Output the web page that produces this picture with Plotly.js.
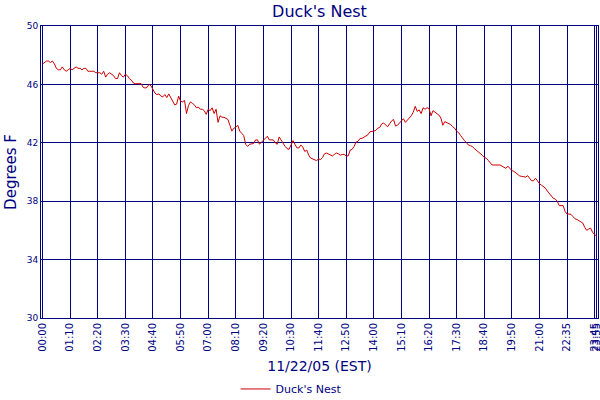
<!DOCTYPE html>
<html>
<head>
<meta charset="utf-8">
<script src="https://cdn.plot.ly/plotly-3.0.1.min.js"></script>
<style>html,body{margin:0;padding:0;background:#fff;}#chart{width:600px;height:400px;}</style>
</head>
<body>
<div id="chart"></div>
<script>
// Temperature readings (degrees F), one per sample
const temps = [
  47.4, 47.5, 47.6, 47.6, 47.5, 47.6, 47.4, 47.1, 47.0, 47.0, 47.2, 47.0, 46.9, 47.0,
  47.1, 47.0, 47.1, 47.2, 47.1, 47.1, 47.0, 47.1, 47.1, 46.9, 46.9, 46.9, 46.9, 46.8,
  46.8, 46.8, 46.7, 46.9, 46.5, 46.7, 46.8, 46.7, 46.6, 46.4, 46.4, 46.8, 46.6, 46.5,
  46.7, 46.6, 46.4, 46.3, 46.1, 46.05, 46.05, 46.05, 46.05, 45.8, 45.75, 45.8, 46.0, 45.9,
  45.6, 45.4, 45.3, 45.35, 45.2, 45.15, 45.3, 45.1, 45.35, 45.1, 44.8, 44.6, 44.65, 45.2,
  44.85, 44.8, 44.9, 44.0, 44.55, 44.8, 44.7, 44.6, 44.4, 44.45, 44.3, 44.3, 44.2, 43.95,
  44.3, 44.2, 44.4, 44.0, 44.3, 43.4, 43.85, 43.75, 43.75, 43.7, 43.6, 43.2, 42.8, 43.0,
  43.05, 43.2, 42.8, 42.65, 42.5, 41.9, 41.75, 41.9, 41.95, 41.95, 42.2, 42.2, 41.9, 42.05,
  42.2, 42.35, 42.45, 42.2, 42.2, 42.2, 42.0, 41.9, 42.4, 42.15, 41.95, 41.75, 41.6, 41.55,
  41.85, 42.15, 41.9, 41.65, 41.65, 41.85, 41.7, 41.4, 41.5, 41.15, 40.95, 40.9, 40.85, 40.78,
  40.9, 40.85, 41.0, 41.25, 41.3, 41.25, 41.15, 41.1, 41.2, 41.3, 41.25, 41.15, 41.2, 41.2,
  41.1, 41.1, 41.5, 41.55, 41.75, 42.05, 42.1, 42.3, 42.3, 42.4, 42.5, 42.55, 42.75, 42.75,
  42.8, 42.85, 43.0, 43.05, 43.3, 43.35, 43.2, 43.1, 43.3, 43.5, 43.6, 43.15, 43.2, 43.35,
  43.5, 43.65, 43.4, 43.55, 43.75, 43.85, 44.1, 44.5, 44.15, 44.25, 44.0, 44.4, 44.3, 44.4,
  44.35, 43.85, 44.2, 44.1, 44.0, 43.9, 43.7, 43.2, 43.45, 43.4, 43.3, 43.25, 43.1, 43.0,
  42.8, 42.7, 42.5, 42.3, 42.15, 42.0, 41.85, 41.8, 41.75, 41.6, 41.5, 41.4, 41.25, 41.15,
  41.0, 40.95, 40.8, 40.6, 40.48, 40.48, 40.48, 40.48, 40.48, 40.4, 40.3, 40.25, 40.4, 40.25,
  40.1, 40.05, 39.95, 39.8, 39.73, 39.7, 39.65, 39.65, 39.75, 39.6, 39.4, 39.4, 39.57, 39.4,
  39.2, 39.1, 39.0, 38.9, 38.7, 38.55, 38.35, 38.2, 38.15, 38.0, 37.7, 37.7, 37.7, 37.3,
  37.12, 37.12, 37.1, 36.95, 36.8, 36.75, 36.65, 36.55, 36.5, 36.2, 36.0, 36.1, 36.15, 35.85, 35.7, 35.6
];
// Sample number of each labelled time and the labels themselves
const tickSample = [0, 14, 28, 42, 56, 70, 84, 98, 112, 126, 140, 154, 168, 182, 196, 210, 224, 238, 252, 266, 280, 281];
const tickLabels = ["00:00", "01:10", "02:20", "03:30", "04:40", "05:50", "07:00", "08:10", "09:20", "10:30",
  "11:40", "12:50", "14:00", "15:10", "16:20", "17:30", "18:40", "19:50", "21:00", "22:35", "23:45", "23:55"];
const yTicks = [30, 34, 38, 42, 46, 50];
const seriesName = "Duck's Nest";

const sampleIndex = temps.map((_, i) => i);
const navy = '#000080';
const FONT = 'DejaVu Sans, Verdana, sans-serif';

const trace = {
  x: sampleIndex,
  y: temps,
  type: 'scatter',
  mode: 'lines',
  name: seriesName,
  line: {color: '#cc0000', width: 1},
  hoverinfo: 'x+y'
};

const layout = {
  width: 600,
  height: 400,
  margin: {l: 41, r: 2, t: 26, b: 82, pad: 0, autoexpand: false},
  paper_bgcolor: '#ffffff',
  plot_bgcolor: '#ffffff',
  font: {family: FONT, color: navy},
  title: {
    text: seriesName,
    font: {family: FONT, size: 16, color: navy},
    x: 0.5, xref: 'paper', xanchor: 'center',
    y: 0.9725, yref: 'container', yanchor: 'middle'
  },
  xaxis: {
    range: [-0.8, 281.7],
    tickmode: 'array',
    tickvals: tickSample,
    ticktext: tickLabels,
    tickangle: -90,
    ticklabeloverflow: 'allow',
    tickfont: {family: FONT, size: 10, color: navy},
    ticks: '',
    showgrid: true,
    gridcolor: navy,
    gridwidth: 1,
    showline: true,
    linecolor: navy,
    linewidth: 1,
    mirror: true,
    zeroline: false,
    automargin: false,
    title: {text: '11/22/05 (EST)', font: {family: FONT, size: 14, color: navy}, standoff: 10}
  },
  yaxis: {
    range: [30, 50],
    tickmode: 'array',
    tickvals: yTicks,
    ticktext: yTicks.map(String),
    tickfont: {family: FONT, size: 9, color: navy},
    ticks: '',
    showgrid: true,
    gridcolor: navy,
    gridwidth: 1,
    showline: true,
    linecolor: navy,
    linewidth: 1,
    mirror: true,
    zeroline: false,
    automargin: false,
    title: {text: 'Degrees F', font: {family: FONT, size: 15, color: navy}, standoff: 6}
  },
  showlegend: true,
  legend: {
    orientation: 'h',
    x: 0.449, xanchor: 'center',
    y: -0.243, yanchor: 'middle',
    font: {family: FONT, size: 11, color: navy},
    bgcolor: 'rgba(0,0,0,0)'
  },
  hovermode: false
};

Plotly.newPlot('chart', [trace], layout, {displayModeBar: false, staticPlot: true});
</script>
</body>
</html>
